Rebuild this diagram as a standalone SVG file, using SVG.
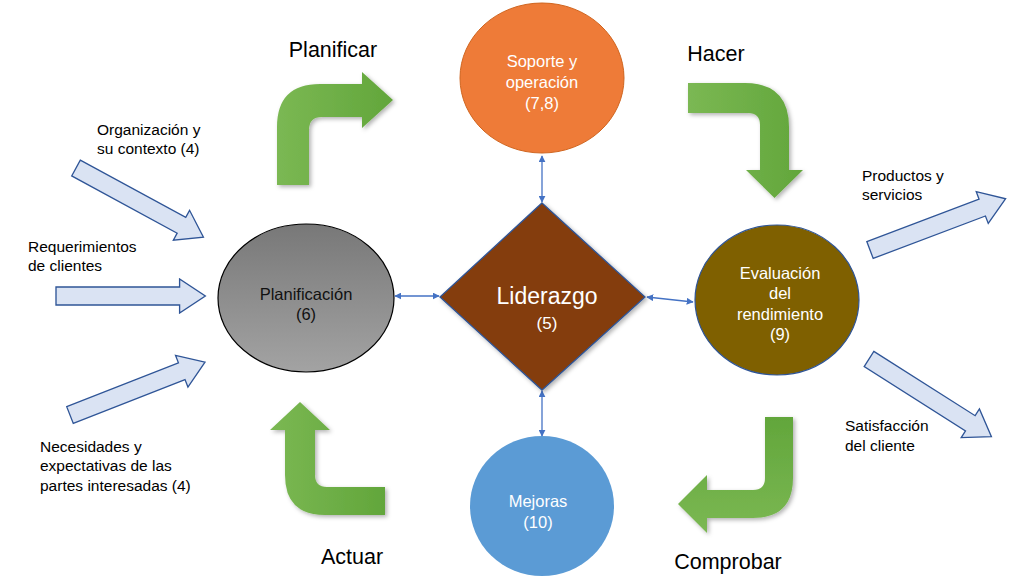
<svg xmlns="http://www.w3.org/2000/svg" width="1010" height="580" viewBox="0 0 1010 580">
<defs>
<style>
text{font-family:"Liberation Sans",Arial,sans-serif;}
.lbl{font-size:15.5px;fill:#000;}
.big{font-size:21.5px;fill:#000;}
.wt{fill:#fff;font-size:16.5px;text-anchor:middle;}
.blue{fill:#dae3f3;stroke:#2f5597;stroke-width:1.3;}
.green{stroke:none;filter:url(#sh);}
.con{stroke:#4472c4;stroke-width:1.3;fill:none;marker-start:url(#ah);marker-end:url(#ah);}
</style>
<marker id="ah" viewBox="0 0 10 10" refX="9" refY="5" markerWidth="7" markerHeight="7" orient="auto-start-reverse" markerUnits="userSpaceOnUse">
<path d="M0,0 L10,5 L0,10 Z" fill="#4472c4"/>
</marker>
<filter id="sh" x="-20%" y="-20%" width="140%" height="140%">
<feDropShadow dx="2" dy="2" stdDeviation="2" flood-color="#000" flood-opacity="0.3"/>
</filter>
<linearGradient id="gH" x1="0" y1="0" x2="1" y2="0">
<stop offset="0" stop-color="#7bb853"/><stop offset="1" stop-color="#62a63b"/>
</linearGradient>
<linearGradient id="gH2" x1="0" y1="0" x2="1" y2="0">
<stop offset="0" stop-color="#7bb853"/><stop offset="1" stop-color="#62a63b"/>
</linearGradient>
<linearGradient id="gV" x1="0" y1="0" x2="0" y2="1">
<stop offset="0" stop-color="#62a63b"/><stop offset="1" stop-color="#7bb853"/>
</linearGradient>
<linearGradient id="gray" x1="0" y1="0" x2="0" y2="1">
<stop offset="0" stop-color="#787878"/><stop offset="1" stop-color="#a3a3a3"/>
</linearGradient>
<path id="ba" d="M0,-9 L120,-9 L120,-17 L145,0 L120,17 L120,9 L0,9 Z"/>
</defs>
<rect width="1010" height="580" fill="#fff"/>

<g id="connectors">
<line class="con" x1="542" y1="156" x2="542" y2="202"/>
<line class="con" x1="395" y1="296" x2="439" y2="296"/>
<line class="con" x1="647" y1="297" x2="693" y2="302"/>
<line class="con" x1="542" y1="391" x2="542" y2="436"/>
</g>

<g id="cycle-arrows">
<path class="green" fill="url(#gH)" d="M277,185 L277,127 Q277,84 320,84 L362,84 L362,72 L393,100 L362,128 L362,117 L322,117 Q309,117 309,130 L309,185 Z"/>
<path class="green" fill="url(#gH)" d="M688,83 L745,83 Q789,83 789,127 L789,170 L803,170 L774.5,198 L746,170 L760,170 L760,125 Q760,113 748,113 L688,113 Z"/>
<path class="green" fill="url(#gH2)" d="M300,402 L330,430 L315,430 L315,475 Q315,487 327,487 L385,487 L385,515 L325,515 Q285,515 285,475 L285,430 L270,430 Z"/>
<path class="green" fill="url(#gV)" d="M765,417 L793,417 L793,478 Q793,518 753,518 L707,518 L707,533 L678,504 L707,475 L707,490 L753,490 Q765,490 765,478 Z"/>
<text class="big" x="333" y="57" text-anchor="middle">Planificar</text>
<text class="big" x="716" y="61" text-anchor="middle">Hacer</text>
<text class="big" x="352" y="564" text-anchor="middle">Actuar</text>
<text class="big" x="728" y="569" text-anchor="middle">Comprobar</text>
</g>

<g id="in-organizacion">
<use href="#ba" class="blue" transform="translate(76,168) rotate(28.5)"/>
<text class="lbl" x="97" y="135">Organización y</text>
<text class="lbl" x="97" y="154">su contexto (4)</text>
</g>
<g id="in-requerimientos">
<use href="#ba" class="blue" transform="translate(56,296) scale(1.03,1)"/>
<text class="lbl" x="28" y="252">Requerimientos</text>
<text class="lbl" x="28" y="271">de clientes</text>
</g>
<g id="in-necesidades">
<use href="#ba" class="blue" transform="translate(70,415) rotate(-21.4)"/>
<text class="lbl" x="40" y="452">Necesidades y</text>
<text class="lbl" x="40" y="471">expectativas de las</text>
<text class="lbl" x="40" y="491">partes interesadas (4)</text>
</g>
<g id="out-productos">
<use href="#ba" class="blue" transform="translate(870,250) rotate(-20.7)"/>
<text class="lbl" x="862" y="181">Productos y</text>
<text class="lbl" x="862" y="200">servicios</text>
</g>
<g id="out-satisfaccion">
<use href="#ba" class="blue" transform="translate(869,359) rotate(32.4)"/>
<text class="lbl" x="845" y="431">Satisfacción</text>
<text class="lbl" x="845" y="451">del cliente</text>
</g>

<g id="soporte">
<ellipse cx="542" cy="78" rx="82" ry="75" fill="#ee7b38" stroke="#d0651f" stroke-width="1"/>
<text class="wt" x="542" y="67" fill="#f5f5f5">Soporte y</text>
<text class="wt" x="542" y="88">operación</text>
<text class="wt" x="542" y="109">(7,8)</text>
</g>
<g id="planificacion">
<ellipse cx="306" cy="298" rx="88" ry="74" fill="url(#gray)" stroke="#000" stroke-width="1.2"/>
<text x="306" y="300" text-anchor="middle" font-size="16.5" fill="#111">Planificación</text>
<text x="306" y="320" text-anchor="middle" font-size="16.5" fill="#111">(6)</text>
</g>
<g id="liderazgo">
<polygon points="542,203 645,297 542,390 440,297" fill="#843c0c" stroke="#2f5597" stroke-width="1.3" filter="url(#sh)"/>
<text x="547" y="304" text-anchor="middle" font-size="23" fill="#fff">Liderazgo</text>
<text x="547" y="329" text-anchor="middle" font-size="17" fill="#fff">(5)</text>
</g>
<g id="evaluacion">
<ellipse cx="777" cy="300" rx="82" ry="75" fill="#7f6000" stroke="#2f5597" stroke-width="1.2"/>
<text class="wt" x="780" y="279">Evaluación</text>
<text class="wt" x="780" y="299">del</text>
<text class="wt" x="780" y="320">rendimiento</text>
<text class="wt" x="780" y="340">(9)</text>
</g>
<g id="mejoras">
<ellipse cx="542" cy="506" rx="72" ry="70" fill="#5b9bd5"/>
<text class="wt" x="538" y="507">Mejoras</text>
<text class="wt" x="538" y="528">(10)</text>
</g>
</svg>
